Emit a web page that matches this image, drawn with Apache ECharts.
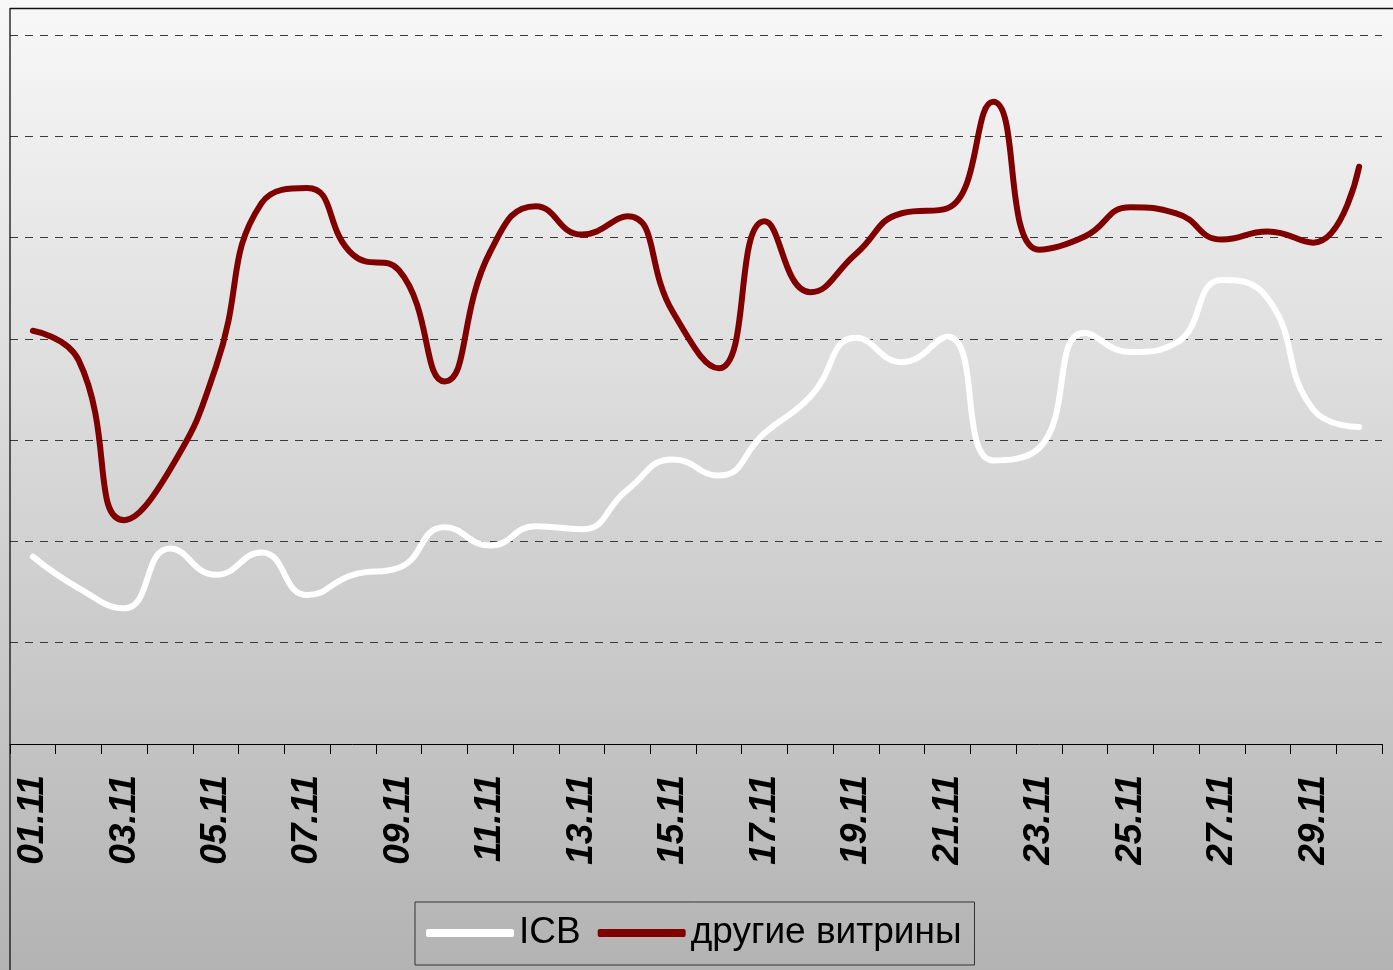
<!DOCTYPE html>
<html>
<head>
<meta charset="utf-8">
<script src="https://cdn.jsdelivr.net/npm/echarts@6/dist/echarts.min.js"></script>
<style>
html,body{margin:0;padding:0;}
#chart{width:1393px;height:970px;}
</style>
</head>
<body>
<div id="chart"></div>
<script>
var categories = ['01.11','02.11','03.11','04.11','05.11','06.11','07.11','08.11','09.11','10.11',
  '11.11','12.11','13.11','14.11','15.11','16.11','17.11','18.11','19.11','20.11',
  '21.11','22.11','23.11','24.11','25.11','26.11','27.11','28.11','29.11','30.11'];
var icbValues = [1.85,1.54,1.34,1.93,1.67,1.89,1.47,1.67,1.74,2.14,
  1.96,2.15,2.12,2.51,2.81,2.65,3.07,3.43,4.01,3.77,
  4.02,2.80,2.92,4.06,3.87,3.96,4.58,4.40,3.30,3.13];
var otherValues = [4.08,3.79,2.21,2.71,3.72,5.34,5.49,4.83,4.68,3.58,
  4.86,5.31,5.03,5.21,4.26,3.71,5.16,4.46,4.84,5.24,
  5.29,6.34,4.88,5.01,5.30,5.24,4.98,5.06,4.95,5.70];
var seriesNames = ['ICB','другие витрины'];

var chart = echarts.init(document.getElementById('chart'), null, {renderer:'canvas'});
var option = {
  animation: false,
  backgroundColor: new echarts.graphic.LinearGradient(0,0,0,1,[
    {offset:0,color:'#f8f8f8'},{offset:1,color:'#b3b3b3'}
  ]),
  grid: {left:10, right:11, top:35, bottom:226, containLabel:false},
  legend: {
    left: 415, top: 902,
    padding: [11, 13, 12, 11],
    borderColor: '#333', borderWidth: 1,
    itemWidth: 88, itemHeight: 8, itemGap: 17,
    textStyle: {fontFamily:'Liberation Sans, Arial, sans-serif', fontSize:37, lineHeight:40, color:'#000'},
    data: [
      {name: seriesNames[0], icon: 'roundRect', itemStyle:{color:'#ffffff'}},
      {name: seriesNames[1], icon: 'roundRect', itemStyle:{color:'#800000'}}
    ]
  },
  xAxis: {
    type:'category', data: categories, boundaryGap: true,
    axisLine: {show:true, lineStyle:{color:'#000', width:1}},
    axisTick: {show:true, interval:0, length:10, lineStyle:{color:'#000', width:1}},
    axisLabel: {interval:1, rotate:90, margin:31, color:'#000',
      fontFamily:'Liberation Sans, Arial, sans-serif', fontSize:37, fontWeight:'bold', fontStyle:'italic'},
    splitLine: {show:false}
  },
  yAxis: {
    type:'value', min:0, max:7, interval:1,
    axisLine:{show:false}, axisTick:{show:false}, axisLabel:{show:false},
    splitLine:{show:true, lineStyle:{color:'#3a3a3a', width:1, type:[8,7]}}
  },
  series: [
    {name: seriesNames[0], type:'line', data: icbValues, smooth:0.5, showSymbol:false, symbol:'none',
      lineStyle:{color:'#ffffff', width:6, cap:'round', join:'round'}, itemStyle:{color:'#ffffff'}, z:3},
    {name: seriesNames[1], type:'line', data: otherValues, smooth:0.5, showSymbol:false, symbol:'none',
      lineStyle:{color:'#800000', width:6, cap:'round', join:'round'}, itemStyle:{color:'#800000'}, z:4}
  ],
  graphic: [
    {type:'line', silent:true, z:100, shape:{x1:10, y1:8.5, x2:1393, y2:8.5}, style:{stroke:'#111', lineWidth:1.3}},
    {type:'line', silent:true, z:100, shape:{x1:10, y1:8, x2:10, y2:970}, style:{stroke:'#111', lineWidth:1.3}}
  ]
};
chart.setOption(option);
</script>
</body>
</html>
